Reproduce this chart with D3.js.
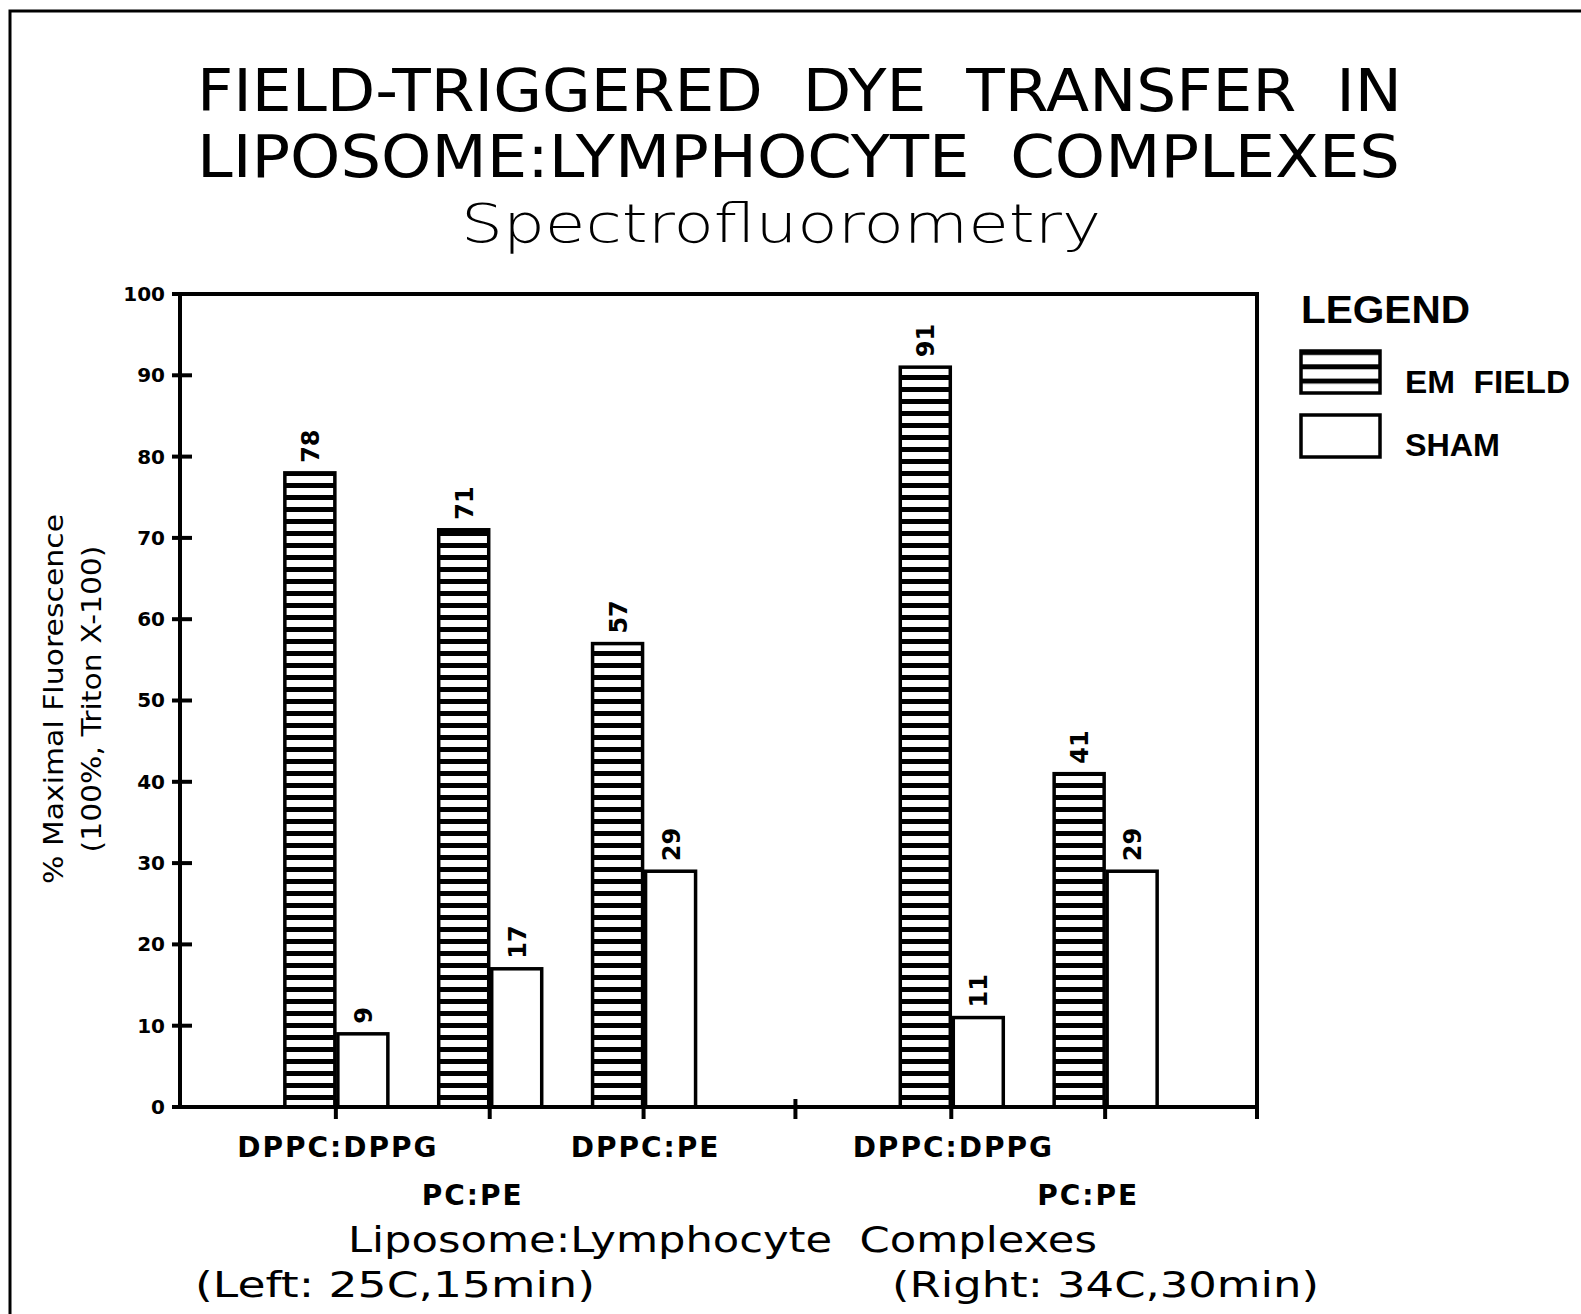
<!DOCTYPE html>
<html>
<head>
<meta charset="utf-8">
<script src="https://cdn.jsdelivr.net/npm/d3@7"></script>
<style>
  body { margin: 0; background: #fff; }
  svg { display: block; }
  text { white-space: pre; }
</style>
</head>
<body>
<svg id="chart" width="1581" height="1314"></svg>
<script>
// data
var categories = ["DPPC:DPPG", "PC:PE", "DPPC:PE", "DPPC:DPPG", "PC:PE"];
var conditions = ["Left", "Left", "Left", "Right", "Right"];
var emField = [78, 71, 57, 91, 41];
var sham = [9, 17, 29, 11, 29];
var yTicks = [0, 10, 20, 30, 40, 50, 60, 70, 80, 90, 100];
var seriesNames = ["EM FIELD", "SHAM"];

var svg = d3.select("#chart");
var pLeft = 180, pRight = 1257, pTop = 294, pBottom = 1107;

// slot keys: empty ends and a gap between the two conditions
var slots = ["start"];
for (var i = 0; i < categories.length; i++) {
    if (i > 0 && conditions[i] != conditions[i-1]) slots.push("gap");
    slots.push(conditions[i] + "|" + i);
}
slots.push("end");

var x = d3.scalePoint().domain(slots).range([pLeft, pRight]);
var y = d3.scaleLinear().domain([0, 100]).range([pBottom, pTop]);

// stripes pattern
var defs = svg.append("defs");
var pat = defs.append("pattern")
    .attr("id", "stripes")
    .attr("patternUnits", "userSpaceOnUse")
    .attr("width", 12).attr("height", 12)
    .attr("y", pBottom);
pat.append("rect").attr("width", 12).attr("height", 12).attr("fill", "#fff");
pat.append("rect").attr("y", 0).attr("width", 12).attr("height", 5).attr("fill", "#000");

var lp = defs.append("pattern")
    .attr("id", "legstripes")
    .attr("patternUnits", "userSpaceOnUse")
    .attr("width", 14).attr("height", 14.3)
    .attr("y", 350);
lp.append("rect").attr("width", 14).attr("height", 14.3).attr("fill", "#fff");
lp.append("rect").attr("width", 14).attr("height", 5).attr("fill", "#000");

// outer frame (top and left only, cut off at the edges)
svg.append("path")
    .attr("d", "M10,1314 L10,11 L1581,11")
    .attr("fill", "none").attr("stroke", "#000").attr("stroke-width", 3);

// titles
svg.append("text").text("FIELD-TRIGGERED  DYE  TRANSFER  IN")
    .attr("x", 197).attr("y", 111)
    .attr("textLength", 1205).attr("lengthAdjust", "spacingAndGlyphs")
    .style("font-family", "DejaVu Sans").style("font-size", "58px");
svg.append("text").text("LIPOSOME:LYMPHOCYTE  COMPLEXES")
    .attr("x", 197).attr("y", 177)
    .attr("textLength", 1203).attr("lengthAdjust", "spacingAndGlyphs")
    .style("font-family", "DejaVu Sans").style("font-size", "58px");
svg.append("text").text("Spectrofluorometry")
    .attr("x", 461).attr("y", 242)
    .attr("textLength", 640).attr("lengthAdjust", "spacingAndGlyphs")
    .style("font-family", "DejaVu Sans").style("font-weight", 300).style("font-size", "54px");

// bars
var barW = 50, gapW = 3;
var g = svg.append("g");
for (var i = 0; i < categories.length; i++) {
    var c = x(conditions[i] + "|" + i) + 1;
    var bars = [
        {x0: c - barW, v: emField[i], fill: "url(#stripes)"},
        {x0: c + gapW, v: sham[i], fill: "#fff"}
    ];
    g.selectAll(null).data(bars).enter().append("rect")
        .attr("x", function(d){ return d.x0; })
        .attr("y", function(d){ return y(d.v); })
        .attr("width", barW)
        .attr("height", function(d){ return y(0) - y(d.v); })
        .attr("fill", function(d){ return d.fill; })
        .attr("stroke", "#000").attr("stroke-width", 3.5);
    g.selectAll(null).data(bars).enter().append("text")
        .text(function(d){ return d.v; })
        .attr("transform", function(d){
            return "translate(" + (d.x0 + barW/2 + 9) + "," + (y(d.v) - 10) + ") rotate(-90)";
        })
        .style("font-family", "DejaVu Sans").style("font-weight", "bold").style("font-size", "24px");
}

// plot frame
svg.append("rect")
    .attr("x", pLeft).attr("y", pTop)
    .attr("width", pRight - pLeft).attr("height", pBottom - pTop)
    .attr("fill", "none").attr("stroke", "#000").attr("stroke-width", 4);

// y axis
var yAxis = svg.append("g").attr("transform", "translate(" + pLeft + ",0)")
    .call(d3.axisLeft(y).tickValues(yTicks).tickSize(0).tickPadding(15));
yAxis.select(".domain").remove();
yAxis.selectAll("text")
    .style("font-family", "DejaVu Sans").style("font-weight", "bold").style("font-size", "20px")
    .attr("fill", "#000");
svg.selectAll(".ytick").data(yTicks).enter().append("line")
    .attr("x1", pLeft - 8).attr("x2", pLeft + 12)
    .attr("y1", function(d){ return y(d); }).attr("y2", function(d){ return y(d); })
    .attr("stroke", "#000").attr("stroke-width", 4);

// x axis ticks between groups
var xTickPos = [];
for (var k = 1; k < slots.length - 1; k++) {
    if (slots[k] == "gap") xTickPos.push(x(slots[k]));
    else xTickPos.push(x(slots[k]) + 2);
}
xTickPos.push(pRight);
svg.selectAll(".xtick").data(xTickPos).enter().append("line")
    .attr("x1", function(d){ return d; }).attr("x2", function(d){ return d; })
    .attr("y1", pBottom - 8).attr("y2", pBottom + 12)
    .attr("stroke", "#000").attr("stroke-width", 4);

// category labels, alternating rows within each condition
var rowIdx = 0;
for (var i = 0; i < categories.length; i++) {
    if (i > 0 && conditions[i] != conditions[i-1]) rowIdx = 0;
    var row = rowIdx % 2;
    svg.append("text").text(categories[i])
        .attr("x", x(conditions[i] + "|" + i) + (row ? -15 : 4))
        .attr("y", row ? 1205 : 1157)
        .attr("text-anchor", "middle")
        .style("font-family", "DejaVu Sans").style("font-weight", "bold")
        .style("font-size", "28px").style("letter-spacing", "2px");
    rowIdx++;
}

// x axis titles
svg.append("text").text("Liposome:Lymphocyte  Complexes")
    .attr("x", 348).attr("y", 1252)
    .attr("textLength", 749).attr("lengthAdjust", "spacingAndGlyphs")
    .style("font-family", "DejaVu Sans").style("font-size", "35px");
svg.append("text").text("(Left: 25C,15min)")
    .attr("x", 195).attr("y", 1297)
    .attr("textLength", 400).attr("lengthAdjust", "spacingAndGlyphs")
    .style("font-family", "DejaVu Sans").style("font-size", "35px");
svg.append("text").text("(Right: 34C,30min)")
    .attr("x", 892).attr("y", 1297)
    .attr("textLength", 427).attr("lengthAdjust", "spacingAndGlyphs")
    .style("font-family", "DejaVu Sans").style("font-size", "35px");

// y axis title
var yt = svg.append("g").attr("transform", "translate(63,699) rotate(-90)");
yt.append("text").text("% Maximal Fluorescence")
    .attr("text-anchor", "middle").attr("x", 0).attr("y", 0)
    .attr("textLength", 370).attr("lengthAdjust", "spacingAndGlyphs")
    .style("font-family", "DejaVu Sans").style("font-size", "26px");
yt.append("text").text("(100%, Triton X-100)")
    .attr("text-anchor", "middle").attr("x", 0).attr("y", 38)
    .attr("textLength", 307).attr("lengthAdjust", "spacingAndGlyphs")
    .style("font-family", "DejaVu Sans").style("font-size", "26px");

// legend
var leg = svg.append("g");
leg.append("text").text("LEGEND")
    .attr("x", 1301).attr("y", 323)
    .attr("textLength", 169).attr("lengthAdjust", "spacingAndGlyphs")
    .style("font-family", "Liberation Sans").style("font-weight", "bold").style("font-size", "38px");
var legFills = ["url(#legstripes)", "#fff"];
leg.selectAll(".sw").data(seriesNames).enter().append("rect")
    .attr("x", 1301)
    .attr("y", function(d, i){ return 351 + i * 64; })
    .attr("width", 79).attr("height", 42)
    .attr("fill", function(d, i){ return legFills[i]; })
    .attr("stroke", "#000").attr("stroke-width", 3.5);
leg.selectAll(".lt").data(seriesNames).enter().append("text")
    .text(function(d){ return d.replace(" ", "  "); })
    .attr("x", 1405)
    .attr("y", function(d, i){ return 393 + i * 63; })
    .attr("textLength", function(d, i){ return i == 0 ? 165 : 95; })
    .attr("lengthAdjust", "spacingAndGlyphs")
    .style("font-family", "Liberation Sans").style("font-weight", "bold").style("font-size", "31px");
</script>
</body>
</html>
